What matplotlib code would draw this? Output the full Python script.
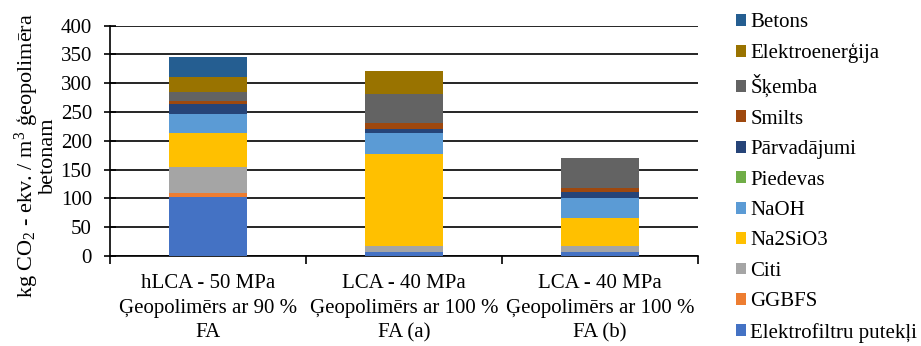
import matplotlib
matplotlib.use('Agg')
import matplotlib.pyplot as plt
from matplotlib.patches import Patch
from matplotlib import font_manager as fm
import numpy as np

serif_path = fm.findfont('Liberation Serif')
plt.rcParams['font.family'] = ['Liberation Serif', 'DejaVu Serif']
plt.rcParams['mathtext.fontset'] = 'custom'
plt.rcParams['mathtext.rm'] = 'Liberation Serif'
plt.rcParams['mathtext.default'] = 'regular'


def fp(size):
    return fm.FontProperties(fname=serif_path, size=size)


# dati (kg CO2-ekv. / m3)
kategorijas = ['hLCA - 50 MPa\nĢeopolimērs ar 90 %\nFA',
               'LCA - 40 MPa\nĢeopolimērs ar 100 %\nFA (a)',
               'LCA - 40 MPa\nĢeopolimērs ar 100 %\nFA (b)']

elektrofiltru = [102, 7.5, 7.5]
ggbfs = [7, 0, 0]
citi = [45, 10.5, 10.5]
na2sio3 = [60, 159, 48.5]
naoh = [33, 36, 33.5]
piedevas = [0, 0, 0]
parvadajumi = [17, 7, 11]
smilts = [5, 10.5, 7]
skemba = [16, 51, 52]
elektroenergija = [26, 39, 0]
betons = [34, 0, 0]

serijas = [
    ('Elektrofiltru putekļi', elektrofiltru, '#4472C4'),
    ('GGBFS', ggbfs, '#ED7D31'),
    ('Citi', citi, '#A5A5A5'),
    ('Na2SiO3', na2sio3, '#FFC000'),
    ('NaOH', naoh, '#5B9BD5'),
    ('Piedevas', piedevas, '#70AD47'),
    ('Pārvadājumi', parvadajumi, '#264478'),
    ('Smilts', smilts, '#9E480E'),
    ('Šķemba', skemba, '#636363'),
    ('Elektroenerģija', elektroenergija, '#997300'),
    ('Betons', betons, '#255E91'),
]

fig = plt.figure(figsize=(9.21, 3.46), dpi=100)
ax = fig.add_axes([0.1194, 0.2601, 0.758 - 0.1194, 0.9257 - 0.2601])

x = np.arange(len(kategorijas))
apaksa = np.zeros(len(kategorijas))
rokturi = []
for nosaukums, vert, krasa in serijas:
    ax.bar(x, vert, 0.4, bottom=apaksa, color=krasa, zorder=3)
    apaksa += np.array(vert)
    rokturi.append(Patch(facecolor=krasa, label=nosaukums))

ax.set_ylim(0, 400)
ax.set_xlim(-0.5, 2.5)
ax.set_yticks(range(0, 401, 50))
ax.set_yticklabels([str(v) for v in range(0, 401, 50)], fontproperties=fp(15))
ax.yaxis.grid(True, color='black', lw=1.2, zorder=0)
ax.set_xticks(x)
ax.set_xticklabels(kategorijas, fontproperties=fp(15), linespacing=1.4)
ax.set_xticks([-0.5, 0.5, 1.5, 2.5], minor=True)
ax.tick_params(axis='x', which='major', length=0, pad=13)
ax.tick_params(axis='x', which='minor', length=6, width=1.2, direction='out')
ax.tick_params(axis='y', length=8, width=1.2, direction='inout', pad=9)

for s in ['top', 'right']:
    ax.spines[s].set_visible(False)
for s in ['left', 'bottom']:
    ax.spines[s].set_linewidth(1.2)
    ax.spines[s].set_color('black')

fig.text(0.038, 0.55, 'kg CO$_2$ - ekv. / m$^3$ ģeopolimēra\nbetonam',
         rotation=90, ha='center', va='center', multialignment='center',
         fontproperties=fp(16), linespacing=0.85)

fig.legend(handles=rokturi[::-1], loc='upper left',
           bbox_to_anchor=(0.799, 0.962), frameon=False,
           prop=fp(15),
           handlelength=0.5, handleheight=0.5, handletextpad=0.2,
           labelspacing=0.55, borderpad=0, borderaxespad=0)

fig.savefig('out.png', dpi=100)
